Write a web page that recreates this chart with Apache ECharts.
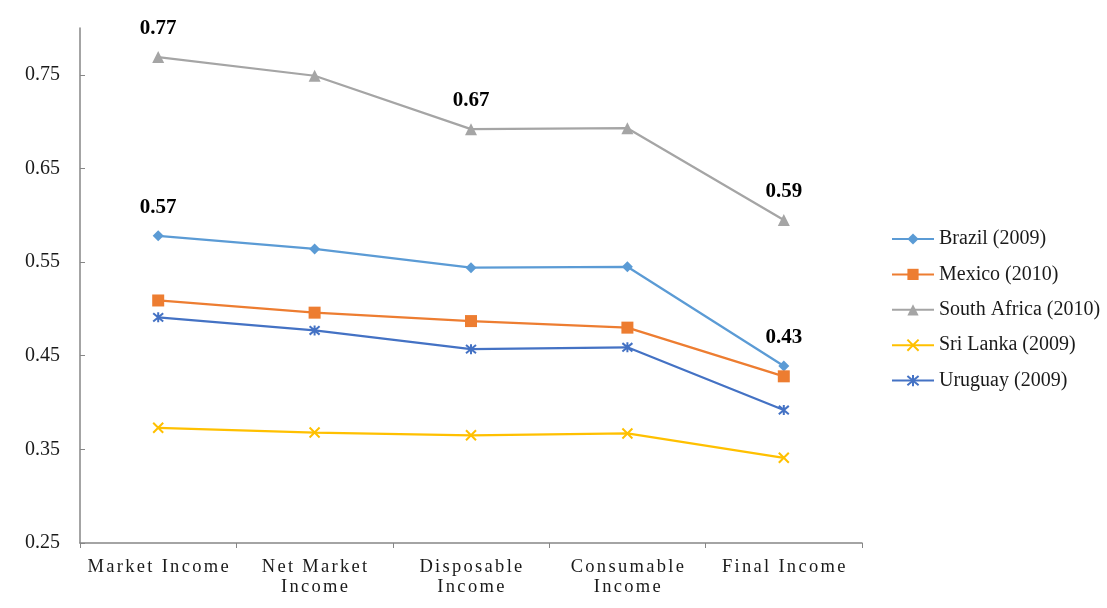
<!DOCTYPE html>
<html>
<head>
<meta charset="utf-8">
<script src="https://cdn.jsdelivr.net/npm/echarts@6/dist/echarts.min.js"></script>
<style>html,body{margin:0;padding:0;background:#fff;}#c{width:1107px;height:608px;}</style>
</head>
<body>
<div id="c"></div>
<script>
const categories = ['Market Income', 'Net Market\nIncome', 'Disposable\nIncome', 'Consumable\nIncome', 'Final Income'];
const brazil = [0.578, 0.564, 0.544, 0.545, 0.439];
const mexico = [0.509, 0.496, 0.487, 0.480, 0.428];
const southAfrica = [0.769, 0.749, 0.692, 0.693, 0.595];
const sriLanka = [0.373, 0.368, 0.365, 0.367, 0.341];
const uruguay = [0.491, 0.477, 0.457, 0.459, 0.392];
const yTicks = [0.25, 0.35, 0.45, 0.55, 0.65, 0.75];
// annotation texts shown above selected points: [seriesName, categoryIndex, text]
const annotations = [
  ['South Africa (2010)', 0, '0.77'],
  ['South Africa (2010)', 2, '0.67'],
  ['South Africa (2010)', 4, '0.59'],
  ['Brazil (2009)', 0, '0.57'],
  ['Brazil (2009)', 4, '0.43']
];

// letter-spaced category labels (as in the reference)
(function () {
  const spaced = new Set(categories.flatMap(c => c.split('\n')));
  const orig = CanvasRenderingContext2D.prototype.fillText;
  CanvasRenderingContext2D.prototype.fillText = function (t, x, y, m) {
    if (spaced.has(t) && 'letterSpacing' in this) {
      this.save();
      this.letterSpacing = '2.3px';
      orig.call(this, t, x + 1, y, m);
      this.restore();
      this.letterSpacing = '0px';
      const f = this.font; this.font = f;
    } else {
      orig.call(this, t, x, y, m);
    }
  };
})();

const FONT = '"Liberation Serif", "Times New Roman", serif';
const xPath = 'path://M0,0L10,10M10,0L0,10';
const starPath = 'path://M0,0L10,10M10,0L0,10M5,-1L5,11';

const defs = [
  {name: 'Brazil (2009)', data: brazil, color: '#5B9BD5', symbol: 'diamond', size: 11},
  {name: 'Mexico (2010)', data: mexico, color: '#ED7D31', symbol: 'rect', size: 12},
  {name: 'South Africa (2010)', data: southAfrica, color: '#A5A5A5', symbol: 'triangle', size: 12},
  {name: 'Sri Lanka (2009)', data: sriLanka, color: '#FFC000', symbol: xPath, size: 10, stroke: true},
  {name: 'Uruguay (2009)', data: uruguay, color: '#4472C4', symbol: starPath, size: 10, stroke: true}
];

const series = defs.map(d => ({
  name: d.name,
  type: 'line',
  symbol: d.symbol,
  symbolSize: d.size,
  lineStyle: {color: d.color, width: 2.25},
  itemStyle: d.stroke ? {color: d.color, borderColor: d.color, borderWidth: 2} : {color: d.color, borderWidth: 0},
  emphasis: {disabled: true},
  data: d.data.map((v, i) => {
    const a = annotations.find(x => x[0] === d.name && x[1] === i);
    const item = {value: v};
    if (a) {
      item.label = {show: true, position: 'top', distance: 12, formatter: a[2],
        fontFamily: FONT, fontSize: 21, fontWeight: 'bold', color: '#000'};
    }
    return item;
  })
}));

const chart = echarts.init(document.getElementById('c'));
chart.setOption({
  animation: false,
  backgroundColor: '#fff',
  grid: {left: 80, right: 245, top: 28, bottom: 65},
  legend: {
    orient: 'vertical', left: 886, top: 224,
    itemWidth: 42, itemHeight: 14, itemGap: 15.4,
    textStyle: {fontFamily: FONT, fontSize: 20, color: '#1a1a1a'},
    data: defs.map(d => d.name)
  },
  xAxis: {
    type: 'category', data: categories, boundaryGap: true,
    axisLine: {lineStyle: {color: '#868686', width: 1.5}},
    axisTick: {show: true, inside: false, length: 5, lineStyle: {color: '#868686'}},
    axisLabel: {fontFamily: FONT, fontSize: 18.5, color: '#1a1a1a', margin: 14, lineHeight: 20}
  },
  yAxis: {
    type: 'value', min: 0.25, max: 0.8, interval: 0.1,
    splitLine: {show: false},
    axisLine: {show: true, lineStyle: {color: '#868686', width: 1.5}},
    axisTick: {show: true, inside: true, length: 5, customValues: yTicks, lineStyle: {color: '#868686'}},
    axisLabel: {fontFamily: FONT, fontSize: 20, color: '#1a1a1a', margin: 20, customValues: yTicks,
      formatter: v => v.toFixed(2)}
  },
  series: series
});
</script>
</body>
</html>
